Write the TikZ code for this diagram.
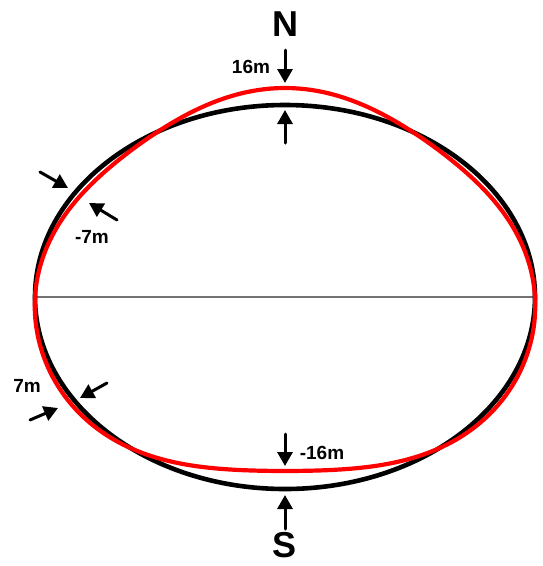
\documentclass[tikz,border=0pt]{standalone}
\usepackage{fontspec}
\setmainfont{Liberation Sans}
\usetikzlibrary{arrows.meta}
\begin{document}
\begin{tikzpicture}[x=1pt,y=-1pt,line cap=round,line join=round,
  declare function={
    sq(\t)=sin(\t)*sin(\t);
    dd(\t)=(sin(\t)>0 ? 28.6*sin(\t)*(sq(\t)*sq(\t)*sq(\t)-0.405) : 29.5*sin(\t)*(sq(\t)*sq(\t)-0.389));
    nn(\t)=veclen(192*cos(\t),250*sin(\t));
  },
  shift arrow/.style={line width=3pt,-{Triangle[length=14pt,width=15pt]}},
  pole/.style={font=\bfseries\fontsize{36}{36}\selectfont,inner sep=0pt},
  shift label/.style={font=\bfseries\fontsize{19}{19}\selectfont,inner sep=0pt}]
  \useasboundingbox (0,0) rectangle (542,566);
  % equator and reference ellipse
  \coordinate (w) at (35,297);
  \coordinate (e) at (535,297);
  \draw[line width=1.8pt,black!55] (w) -- (e);
  \draw[line width=4.6pt] (285,297) ellipse [x radius=250,y radius=192];
  % deformed figure, shifted along the normal
  \draw[red,line width=4.2pt] plot[domain=0:360,samples=241]
    ({285+cos(\x)*(250+dd(\x)*192/nn(\x))},
     {297-sin(\x)*(192+dd(\x)*250/nn(\x))});
  % poles
  \node[pole] (n) at (285,24) {N};
  \node[pole] (s) at (285,545) {S};
  % north shift
  \coordinate (n out) at (285,50);
  \coordinate (n red) at (285,83);
  \coordinate (n in) at (285,143);
  \coordinate (n blk) at (285,110);
  \draw[shift arrow] (n out) -- (n red);
  \draw[shift arrow] (n in) -- (n blk);
  \node[shift label] (n lbl) at (251,67) {16m};
  % south shift
  \coordinate (s in) at (285,434);
  \coordinate (s red) at (285,466);
  \coordinate (s out) at (285,529);
  \coordinate (s blk) at (285,495);
  \draw[shift arrow] (s in) -- (s red);
  \draw[shift arrow] (s out) -- (s blk);
  \node[shift label] (s lbl) at (322,453) {-16m};
  % upper left shift
  \coordinate (ul out) at (40,172);
  \coordinate (ul blk) at (68,188);
  \coordinate (ul in) at (117,220);
  \coordinate (ul red) at (89,203);
  \draw[shift arrow] (ul out) -- (ul blk);
  \draw[shift arrow] (ul in) -- (ul red);
  \node[shift label] (ul lbl) at (92,237) {-7m};
  % lower left shift
  \coordinate (ll out) at (30,420);
  \coordinate (ll red) at (58,408);
  \coordinate (ll in) at (107,383);
  \coordinate (ll blk) at (80,398);
  \draw[shift arrow] (ll out) -- (ll red);
  \draw[shift arrow] (ll in) -- (ll blk);
  \node[shift label] (ll lbl) at (27,386) {7m};
\end{tikzpicture}
\end{document}
